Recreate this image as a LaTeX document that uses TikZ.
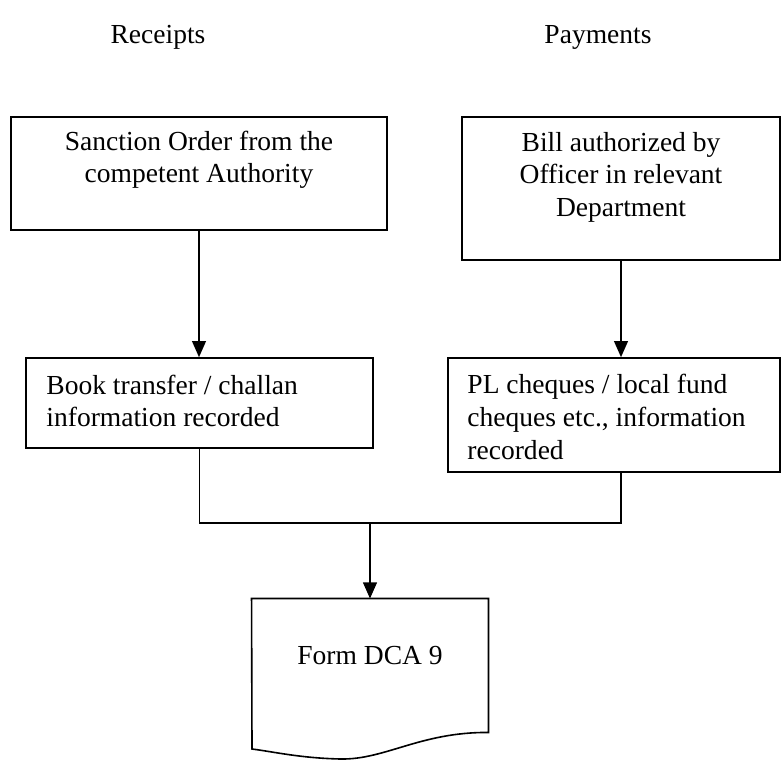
\documentclass[tikz,border=0pt]{standalone}
\usepackage{fontspec}
\setmainfont{Liberation Serif}
\usetikzlibrary{arrows.meta, fit}

\begin{document}
\begin{tikzpicture}[x=0.436pt, y=-0.436pt,
    box/.style={draw, line width=0.7pt, inner sep=0pt},
    txt/.style={inner sep=0pt, font=\fontsize{12}{14.2}\selectfont},
    flow/.style={line width=0.7pt},
    arr/.style={flow, -{Triangle[length=7pt, width=6pt]}}]

        \useasboundingbox (0,0) rectangle (782,762);

        \node[txt] (receipts) at (158,37) {Receipts};
        \node[txt] (payments) at (598,37) {Payments};

        % boxes
        \node[box, fit={(11,117) (387,230)}] (sanction) {};
        \node[box, fit={(462,117) (780,260)}] (bill) {};
        \node[box, fit={(26,358) (373,448)}] (book) {};
        \node[box, fit={(448,358) (780,472)}] (pl) {};
        \node[inner sep=0pt, fit={(252,599) (488,732)}] (form) {};

        \node[txt, align=center] (sanctiontxt) at (199,160) {Sanction Order from the\\competent Authority};
        \node[txt, align=center] (billtxt) at (621,177) {Bill authorized by\\Officer in relevant\\Department};
        \node[txt, align=left, anchor=west] (booktxt) at (46,401) {Book transfer / challan\\information recorded};
        \node[txt, align=left, anchor=west] (pltxt) at (467,417) {PL cheques / local fund\\cheques etc., information\\recorded};
        \node[txt] (formtxt) at (370,656) {Form DCA 9};

        % document outline
        \draw[flow] (form.south east) .. controls (420,732) and (385,760) .. (340,759)
            .. controls (300,758) and (275,752) .. (252,749) -- (form.north west)
            -- (form.north east) -- cycle;

        \coordinate (join) at (370,523);

        \draw[arr] (sanction.south) -- (sanction.south |- book.north);
        \draw[arr] (bill.south) -- (bill.south |- pl.north);
        \draw[flow] (book.south) |- (join);
        \draw[flow] (bill.south |- pl.south) |- (join);
        \draw[arr] (join) -- (form.north);

    \end{tikzpicture}
\end{document}
